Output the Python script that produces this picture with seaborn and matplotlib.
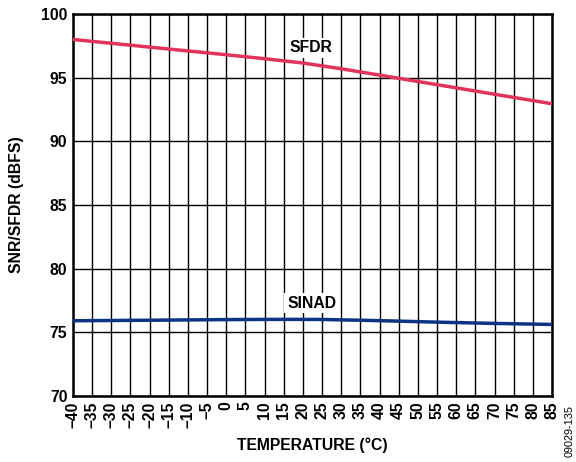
import matplotlib
matplotlib.use("Agg")
import matplotlib.pyplot as plt
import seaborn as sns
import pandas as pd

temps = [-40, -20, 0, 10, 20, 30, 40, 60, 85]
sfdr = [98.0, 97.4, 96.8, 96.49, 96.15, 95.7, 95.2, 94.2, 92.95]
sinad_t = [-40, -20, 0, 15, 25, 35, 45, 55, 70, 85]
sinad = [75.91, 75.95, 76.0, 76.02, 76.01, 75.95, 75.88, 75.8, 75.7, 75.62]
xticks = list(range(-40, 90, 5))
xticklabels = [("\u2013" + str(abs(t))) if t < 0 else str(t) for t in xticks]
yticks = [70, 75, 80, 85, 90, 95, 100]

sns.set_theme(style="white")
plt.rcParams['font.family'] = ['Liberation Sans', 'DejaVu Sans']
plt.rcParams['text.color'] = 'black'
plt.rcParams['axes.labelcolor'] = 'black'
plt.rcParams['xtick.color'] = 'black'
plt.rcParams['ytick.color'] = 'black'

FS = 11.3
fig = plt.figure(figsize=(5.76, 4.62), dpi=100)
ax = fig.add_axes([73/576, 1 - 396/462, 479/576, 382/462])

df1 = pd.DataFrame({"t": temps, "v": sfdr})
df2 = pd.DataFrame({"t": sinad_t, "v": sinad})
sns.lineplot(data=df1, x="t", y="v", ax=ax, color="#e2335a", lw=2.5, zorder=3)
sns.lineplot(data=df2, x="t", y="v", ax=ax, color="#0b3582", lw=2.5, zorder=3)

ax.set_xlim(-40, 85)
ax.set_ylim(70, 100)
ax.set_xticks(xticks)
ax.set_xticklabels(xticklabels, rotation=90, fontweight="bold", fontsize=FS)
ax.set_yticks(yticks)
ax.set_yticklabels([str(y) for y in yticks], fontweight="bold", fontsize=FS)
ax.grid(True, color="black", lw=1.0, zorder=1)
ax.set_axisbelow(True)
for s in ax.spines.values():
    s.set_color("black")
    s.set_linewidth(1.8)
ax.tick_params(axis="both", length=0, pad=4, colors="black")

ax.set_xlabel("TEMPERATURE (°C)", fontweight="bold", fontsize=FS, labelpad=7, color="black")
ax.set_ylabel("SNR/SFDR (dBFS)", fontweight="bold", fontsize=FS, labelpad=12, color="black")

ax.text(22.1, 97.33, "SFDR", ha="center", va="center", fontweight="bold", fontsize=FS,
        color="black", bbox=dict(facecolor="white", edgecolor="none", pad=2), zorder=4)
ax.text(22.3, 77.3, "SINAD", ha="center", va="center", fontweight="bold", fontsize=FS,
        color="black", bbox=dict(facecolor="white", edgecolor="none", pad=2), zorder=4)

fig.text(570/576, 1 - 431/462, "09029-135", rotation=90, ha="center", va="center",
         fontsize=7.8, color="black")

fig.savefig("out.png", dpi=100)
